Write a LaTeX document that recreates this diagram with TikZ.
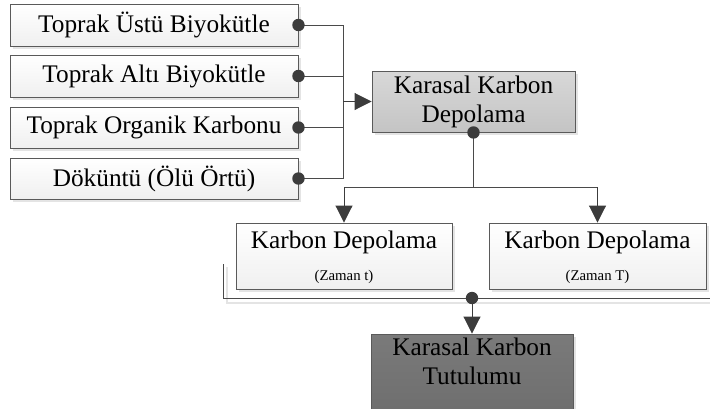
\documentclass[tikz,border=0pt]{standalone}
\usepackage{fontspec}
\setmainfont{Liberation Serif}
\usetikzlibrary{arrows.meta,shadows}

\definecolor{edgec}{HTML}{5A5A5A}
\definecolor{wirec}{HTML}{4A4A4A}
\definecolor{dotc}{HTML}{3C3C3C}
\definecolor{shadowc}{HTML}{E4E4E4}
\definecolor{midtop}{HTML}{D8D8D8}
\definecolor{midbot}{HTML}{C4C4C4}
\definecolor{darktop}{HTML}{7A7A7A}
\definecolor{darkbot}{HTML}{6E6E6E}

\newcommand\bigtxt{\fontsize{25.3}{29}\selectfont}
\newcommand\smalltxt{\fontsize{14.8}{17}\selectfont}

\begin{document}
\begin{tikzpicture}[x=1pt,y=-1pt,
  box/.style={draw=edgec, line width=0.9pt, inner sep=0pt, align=center,
    font=\bigtxt, text=black,
    drop shadow={shadow xshift=3pt, shadow yshift=-3pt, fill=shadowc, opacity=1}},
  lightbox/.style={box, top color=white, bottom color=gray!12},
  midbox/.style={box, top color=midtop, bottom color=midbot},
  darkbox/.style={box, top color=darktop, bottom color=darkbot},
  wire/.style={draw=wirec, line width=0.9pt},
  arrow/.style={wire, -{Triangle[length=17pt,width=17pt]}, color=dotc},
  txt/.style={font=\bigtxt, text=black, inner sep=0pt, anchor=base},
  smalltext/.style={font=\smalltxt, text=black, inner sep=0pt, anchor=base},
  joint/.style={fill=dotc}
]
\useasboundingbox (0,0) rectangle (710,408);

% source boxes on the left
\node[lightbox, minimum width=288pt, minimum height=42pt] (l1) at (154,25) {Toprak Üstü Biyokütle};
\node[lightbox, minimum width=288pt, minimum height=42pt] (l2) at (154,76) {Toprak Altı Biyokütle};
\node[lightbox, minimum width=288pt, minimum height=41pt] (l3) at (154,127.5) {Toprak Organik Karbonu};
\node[lightbox, minimum width=288pt, minimum height=41pt] (l4) at (154,178.5) {Döküntü (Ölü Örtü)};

% total storage
\node[midbox, minimum width=203pt, minimum height=61pt] (kk) at (473.5,101.5) {Karasal Karbon\\Depolama};

% storage at two times
\node[lightbox, minimum width=216pt, minimum height=66pt] (kd1) at (344,256) {};
\node[lightbox, minimum width=217pt, minimum height=66pt] (kd2) at (597.5,256) {};
\node[txt] (kd1a) at (344,248) {Karbon Depolama};
\node[smalltext] (kd1b) at (344,280) {(Zaman t)};
\node[txt] (kd2a) at (597.5,248) {Karbon Depolama};
\node[smalltext] (kd2b) at (597.5,280) {(Zaman T)};

% sequestration
\node[darkbox, minimum width=202pt, minimum height=82pt] (kt) at (472,375) {};
\node[txt] (kt1) at (472,355) {Karasal Karbon};
\node[txt] (kt2) at (472,384) {Tutulumu};

% collecting bus from the left boxes
\coordinate (bus) at (343,0);
\foreach \i in {1,...,4} {
  \draw[wire] (l\i.east) -- (l\i.east -| bus);
}
\draw[wire] (l1.east -| bus) -- (l4.east -| bus);
\draw[arrow] (kk.west -| bus) -- (kk.west);
\foreach \i in {1,...,4} {
  \fill[joint] (l\i.east) circle[radius=6.2pt];
}

% split to the two storage boxes
\path (kk.south) ++(0,55) coordinate (split);
\draw[wire] (kk.south) -- (split);
\draw[wire] (kd1.north |- split) -- (kd2.north |- split);
\draw[arrow] (kd1.north |- split) -- (kd1.north);
\draw[arrow] (kd2.north |- split) -- (kd2.north);
\fill[joint] (kk.south) circle[radius=6.2pt];

% bracket under the storage boxes
\coordinate (bl) at (223,264);
\coordinate (bc) at (223,298);
\coordinate (br) at (712,298);
\coordinate (jn) at (472,298);
\draw[shadowc, line width=1.2pt] (227,267) -- (227,303) -- (712,303);
\draw[wire] (bl) -- (bc) -- (br);
\draw[arrow] (jn) -- (jn |- kt.north);
\fill[joint] (jn) circle[radius=6.2pt];
\end{tikzpicture}
\end{document}
